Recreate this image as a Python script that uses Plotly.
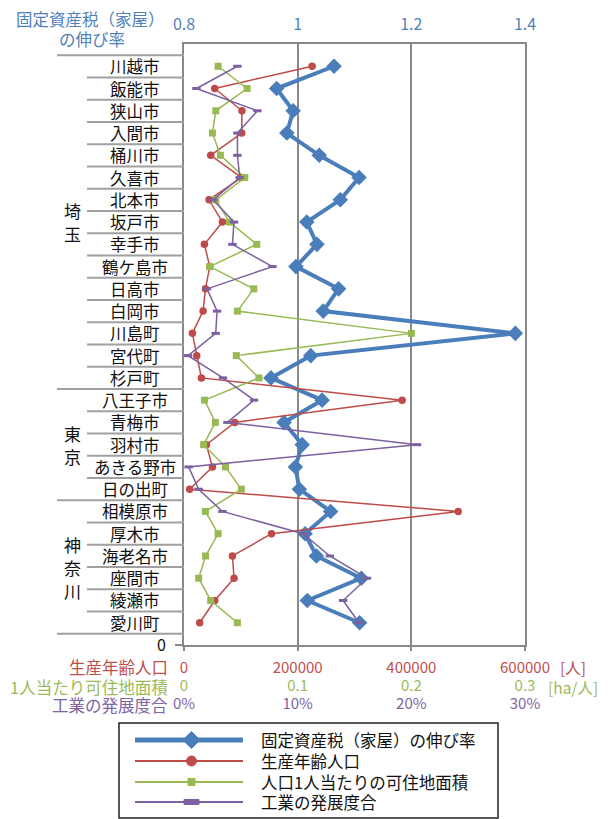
import plotly.graph_objects as go

# ---- data -------------------------------------------------------------
cities = ["川越市", "飯能市", "狭山市", "入間市", "桶川市", "久喜市", "北本市",
          "坂戸市", "幸手市", "鶴ケ島市", "日高市", "白岡市", "川島町", "宮代町",
          "杉戸町", "八王子市", "青梅市", "羽村市", "あきる野市", "日の出町",
          "相模原市", "厚木市", "海老名市", "座間市", "綾瀬市", "愛川町"]
prefectures = ["埼玉", "東京", "神奈川"]
prefecture_sizes = [15, 5, 6]

tax_growth = [1.064, 0.963, 0.992, 0.981, 1.038, 1.108, 1.075, 1.016, 1.034,
              0.997, 1.072, 1.045, 1.383, 1.023, 0.953, 1.043, 0.976, 1.008,
              0.996, 1.003, 1.058, 1.013, 1.033, 1.112, 1.017, 1.109]
working_pop = [225400, 54000, 102000, 101500, 47000, 101000, 44000, 67600,
               35900, 45300, 37700, 33500, 14800, 22400, 30600, 383900, 89300,
               39400, 50000, 10000, 482500, 153900, 85200, 88100, 54100, 27600]
area_per_person = [0.030, 0.0555, 0.028, 0.025, 0.032, 0.0535, 0.028, 0.040,
                   0.064, 0.0226, 0.0614, 0.047, 0.200, 0.046, 0.066, 0.018,
                   0.0276, 0.0173, 0.0365, 0.0505, 0.0188, 0.030, 0.019,
                   0.0129, 0.0235, 0.047]
industry = [0.047, 0.0109, 0.0646, 0.047, 0.047, 0.049, 0.0255, 0.044, 0.0426,
            0.0778, 0.0203, 0.0291, 0.0279, 0.0035, 0.0343, 0.0616, 0.0382,
            0.205, 0.0041, 0.0129, 0.0338, 0.1048, 0.1283, 0.161, 0.140, 0.154]

tax_ticks = [0.8, 1.0, 1.2, 1.4]
tax_ticktext = ["0.8", "1", "1.2", "1.4"]
pop_ticks = [0, 200000, 400000, 600000]
pop_ticktext = ["0", "200000", "400000", "600000"]
area_ticks = [0, 0.1, 0.2, 0.3]
area_ticktext = ["0", "0.1", "0.2", "0.3"]
ind_ticks = [0, 0.1, 0.2, 0.3]
ind_ticktext = ["0%", "10%", "20%", "30%"]

series_names = ["固定資産税（家屋）の伸び率", "生産年齢人口",
                "人口1人当たりの可住地面積", "工業の発展度合"]

# ---- styling ------------------------------------------------------------
BLUE, RED, GREEN, PURPLE = "#4A7EBB", "#BE4B48", "#98B954", "#7D60A0"
BLUE_T, RED_T, GREEN_T, PURPLE_T = "#4F81BD", "#C0504D", "#9BBB59", "#8064A2"
GRID = "#898989"
SEP = "#A0A0A0"
JP = "Noto Sans CJK JP, Noto Sans, sans-serif"

W, H = 611, 819
L, R, T, B = 184, 525, 44, 645


def px(x):
    return (x - L) / (R - L)


def py(y):
    return (B - y) / (B - T)


def label(text, x, y, color="#111", size=16.5, xanchor="center",
          xref="paper", yref="paper"):
    return dict(text=text, xref=xref, yref=yref, x=x, y=y, showarrow=False,
                xanchor=xanchor, yanchor="middle",
                font=dict(family=JP, size=size, color=color))


n = len(cities)
ypos = [n - i for i in range(n)]

fig = go.Figure()
fig.add_trace(go.Scatter(
    x=tax_growth, y=ypos, xaxis="x", yaxis="y", mode="lines+markers",
    name=series_names[0], line=dict(color=BLUE, width=4),
    marker=dict(symbol="diamond", size=12, color=BLUE)))
fig.add_trace(go.Scatter(
    x=working_pop, y=ypos, xaxis="x2", yaxis="y", mode="lines+markers",
    name=series_names[1], line=dict(color=RED, width=1.5),
    marker=dict(symbol="circle", size=7.5, color=RED)))
fig.add_trace(go.Scatter(
    x=area_per_person, y=ypos, xaxis="x3", yaxis="y", mode="lines+markers",
    name=series_names[2], line=dict(color=GREEN, width=1.5),
    marker=dict(symbol="square", size=7, color=GREEN)))
fig.add_trace(go.Scatter(
    x=industry, y=ypos, xaxis="x4", yaxis="y", mode="lines+markers",
    name=series_names[3], line=dict(color=PURPLE, width=1.5),
    marker=dict(symbol="line-ew", size=6, color=PURPLE,
                line=dict(color=PURPLE, width=3))))

shapes = []
annotations = []

# table rows on the left: separators, city names and prefecture groups
group_edges = {0}
acc = 0
for s in prefecture_sizes:
    acc += s
    group_edges.add(acc)
for i in range(n + 1):
    x0 = 57 if i in group_edges else 87
    shapes.append(dict(type="line", xref="paper", yref="y",
                       x0=px(x0), x1=px(L), y0=n + 0.5 - i, y1=n + 0.5 - i,
                       line=dict(color=SEP, width=2)))
for i, c in enumerate(cities):
    annotations.append(label(c, px(135), ypos[i], size=16.5, yref="y"))
start = 0
for name, s in zip(prefectures, prefecture_sizes):
    center = n + 0.5 - start - s / 2
    k = len(name)
    for j, ch in enumerate(name):
        annotations.append(label(ch, px(72), center + ((k - 1) / 2 - j) * 1.03,
                                 size=17, yref="y"))
    start += s

# axis captions
annotations.append(label("固定資産税（家屋）", px(90), py(19), BLUE_T))
annotations.append(label("の伸び率", px(92), py(39), BLUE_T))
for text, col, yy in [("生産年齢人口", RED_T, 667),
                      ("1人当たり可住地面積", GREEN_T, 687),
                      ("工業の発展度合", PURPLE_T, 705)]:
    annotations.append(label(text, px(170), py(yy), col, xanchor="right"))
annotations.append(label("[人]", px(558), py(667), RED_T, 15.5, "left"))
annotations.append(label("[ha/人]", px(546), py(687), GREEN_T, 15.5, "left"))

# legend box drawn below the plot
shapes.append(dict(type="rect", xref="paper", yref="paper",
                   x0=px(119), x1=px(498), y0=py(723), y1=py(818),
                   line=dict(color="#222", width=1.5), fillcolor="white",
                   layer="below"))
leg_rows = [740, 761, 782, 802]
leg_cols = [BLUE, RED, GREEN, PURPLE]
leg_w = [5, 2, 2, 2]
mx = 191.5
for yy, col, lw, name in zip(leg_rows, leg_cols, leg_w, series_names):
    shapes.append(dict(type="line", xref="paper", yref="paper",
                       x0=px(135), x1=px(243), y0=py(yy), y1=py(yy),
                       line=dict(color=col, width=lw)))
    annotations.append(label(name, px(259), py(yy), xanchor="left"))
d = 8.5
yy = leg_rows[0]
shapes.append(dict(type="path", xref="paper", yref="paper",
                   path=(f"M {px(mx - d)},{py(yy)} L {px(mx)},{py(yy - d)} "
                         f"L {px(mx + d)},{py(yy)} L {px(mx)},{py(yy + d)} Z"),
                   fillcolor=BLUE, line=dict(color=BLUE, width=1)))
yy = leg_rows[1]
shapes.append(dict(type="circle", xref="paper", yref="paper",
                   x0=px(mx - 5), x1=px(mx + 5), y0=py(yy + 5), y1=py(yy - 5),
                   fillcolor=RED, line=dict(color=RED, width=1)))
yy = leg_rows[2]
shapes.append(dict(type="rect", xref="paper", yref="paper",
                   x0=px(mx - 3.5), x1=px(mx + 3.5), y0=py(yy + 3.5),
                   y1=py(yy - 3.5), fillcolor=GREEN,
                   line=dict(color=GREEN, width=1)))
yy = leg_rows[3]
shapes.append(dict(type="rect", xref="paper", yref="paper",
                   x0=px(mx - 7.5), x1=px(mx + 7.5), y0=py(yy + 2.5),
                   y1=py(yy - 2.5), fillcolor=PURPLE,
                   line=dict(color=PURPLE, width=1)))

common = dict(showgrid=False, zeroline=False, fixedrange=True)
fig.update_layout(
    width=W, height=H,
    margin=dict(l=L, r=W - R, t=T, b=H - B, pad=0),
    paper_bgcolor="white", plot_bgcolor="white",
    showlegend=False,
    font=dict(family=JP, size=16, color="#111"),
    xaxis=dict(range=[0.8, 1.4], side="top", tickvals=tax_ticks,
               ticktext=tax_ticktext, tickfont=dict(color=BLUE_T, size=16),
               showgrid=True, gridcolor=GRID, gridwidth=2, zeroline=False,
               showline=True, mirror=True, linecolor=GRID, linewidth=2,
               ticks="", ticklabelstandoff=6, fixedrange=True),
    xaxis2=dict(range=[0, 600000], overlaying="x", side="bottom", anchor="y",
                tickvals=pop_ticks, ticktext=pop_ticktext,
                tickfont=dict(color=RED_T, size=15), ticks="outside",
                ticklen=5, tickwidth=2, tickcolor=GRID, ticklabelstandoff=4,
                showline=False, **common),
    xaxis3=dict(range=[0, 0.3], overlaying="x", side="bottom", anchor="y",
                tickvals=area_ticks, ticktext=area_ticktext,
                tickfont=dict(color=GREEN_T, size=15), ticks="",
                ticklabelstandoff=30, showline=False, **common),
    xaxis4=dict(range=[0, 0.3], overlaying="x", side="bottom", anchor="y",
                tickvals=ind_ticks, ticktext=ind_ticktext,
                tickfont=dict(color=PURPLE_T, size=15), ticks="",
                ticklabelstandoff=48, showline=False, **common),
    yaxis=dict(range=[0, 27], tickvals=[0], ticktext=["0"],
               tickfont=dict(color="#111", size=16), ticks="outside",
               ticklen=7, tickwidth=2, tickcolor=GRID, ticklabelstandoff=6,
               showline=True, mirror=True, linecolor=GRID, linewidth=2,
               **common),
    shapes=shapes,
    annotations=annotations,
)

fig.write_html("out.html")
